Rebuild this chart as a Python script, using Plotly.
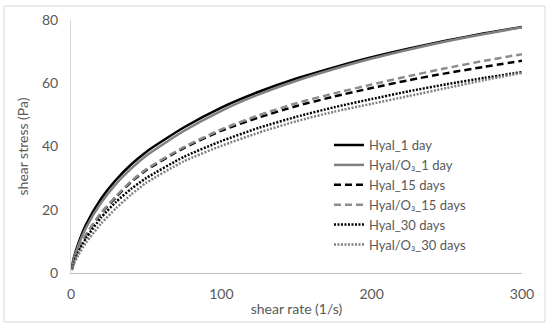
import plotly.graph_objects as go

shear_rate = [0.5, 2, 5, 10, 20, 30, 40, 50, 75, 100, 125, 150, 175, 200, 225, 250, 275, 300]

hyal_1 = [1.5, 5.0, 9.5, 15.3, 23.5, 29.5, 34.3, 38.3, 46.0, 52.3, 57.3, 61.5, 65.0, 68.2, 71.0, 73.5, 75.8, 77.8]
hyal_o3_1 = [1.4, 4.6, 8.8, 14.3, 22.2, 28.2, 33.0, 37.1, 44.9, 51.3, 56.5, 60.8, 64.5, 67.8, 70.7, 73.3, 75.6, 77.7]
hyal_15 = [1.2, 3.8, 7.4, 12.0, 18.8, 24.0, 28.8, 32.5, 39.5, 45.0, 49.2, 52.8, 55.8, 58.5, 61.0, 63.2, 65.2, 67.1]
hyal_o3_15 = [1.2, 3.9, 7.5, 12.2, 19.0, 24.3, 29.0, 32.8, 39.8, 45.4, 49.9, 53.7, 56.8, 59.6, 62.3, 64.8, 67.1, 69.2]
hyal_30 = [1.0, 3.4, 6.8, 11.0, 17.5, 22.5, 26.6, 30.0, 36.7, 41.7, 45.9, 49.4, 52.4, 55.0, 57.5, 59.7, 61.7, 63.5]
hyal_o3_30 = [0.9, 2.9, 5.8, 9.6, 15.6, 20.5, 24.8, 28.5, 35.3, 40.2, 44.4, 48.0, 51.0, 53.5, 56.0, 58.5, 61.0, 63.3]

series = [
    ("Hyal_1 day", hyal_1, "#000000", "solid"),
    ("Hyal/O₃_1 day", hyal_o3_1, "#808080", "solid"),
    ("Hyal_15 days", hyal_15, "#000000", "7px,4px"),
    ("Hyal/O₃_15 days", hyal_o3_15, "#8c8c8c", "7px,4px"),
    ("Hyal_30 days", hyal_30, "#000000", "2px,1.5px"),
    ("Hyal/O₃_30 days", hyal_o3_30, "#808080", "2px,1.5px"),
]

fig = go.Figure()
for name, ys, color, dash in series:
    fig.add_trace(go.Scatter(
        x=shear_rate, y=ys, name=name, mode="lines",
        line=dict(color=color, width=2.5, dash=dash, shape="spline", smoothing=0.6),
    ))

font = dict(family="Lato, 'Open Sans', sans-serif", size=14, color="#595959")

fig.update_layout(
    width=550, height=329,
    margin=dict(l=71, r=28, t=20, b=56),
    paper_bgcolor="white", plot_bgcolor="white",
    font=font,
    showlegend=True,
    legend=dict(x=0.572, y=0.565, xanchor="left", yanchor="top",
                bgcolor="rgba(0,0,0,0)", font=dict(size=13, color="#595959"),
                tracegroupgap=0, itemwidth=30),
    xaxis=dict(range=[0, 300], dtick=100, showgrid=False, zeroline=False,
               showline=True, linecolor="#bfbfbf", linewidth=1, ticks="",
               ticklabelstandoff=8,
               title=dict(text="shear rate (1/s)", standoff=3, font=dict(size=14, color="#595959"))),
    yaxis=dict(range=[0, 80], dtick=20, showgrid=False, zeroline=False,
               showline=True, linecolor="#d9d9d9", linewidth=1, ticks="",
               ticklabelstandoff=9,
               title=dict(text="shear stress (Pa)", standoff=10, font=dict(size=14, color="#595959"))),
    shapes=[dict(type="rect", xref="paper", yref="paper",
                 x0=-0.1486, x1=1.051, y0=-0.1937, y1=1.0553,
                 line=dict(color="#d9d9d9", width=1), fillcolor="rgba(0,0,0,0)", layer="below")],
)

fig.write_html("out.html", config={"displayModeBar": False},
               post_script="document.body.style.margin='0';")
